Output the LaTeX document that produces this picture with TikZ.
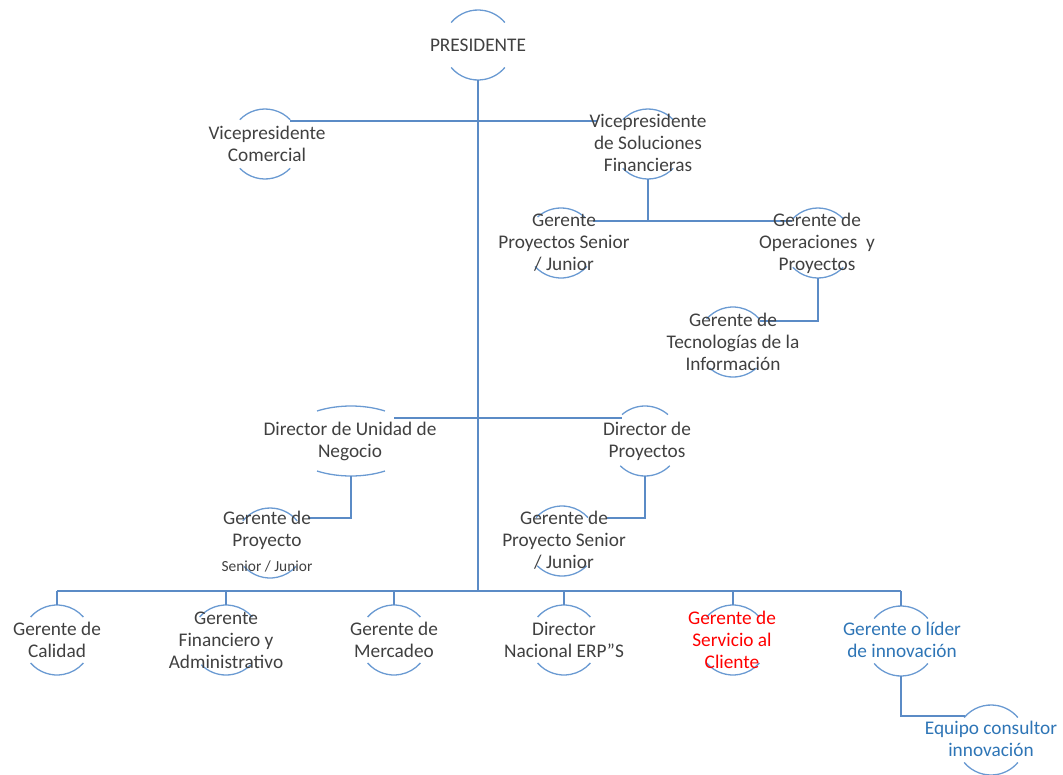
\documentclass[tikz,border=0pt]{standalone}
\usepackage{fontspec}
\setmainfont{Carlito}
\usetikzlibrary{calc}

\definecolor{linkblue}{HTML}{5B8BC6}
\definecolor{capblue}{HTML}{6A9AD2}
\definecolor{txtgray}{HTML}{404040}
\definecolor{txtred}{HTML}{FF0000}
\definecolor{txtblue}{HTML}{2E75B6}

% upper and lower caps of an org-chart bubble
% #1 centre, #2 x radius, #3 y radius, #4 upper half-angle, #5 lower half-angle
\newcommand\orgcaps[5]{%
  \draw[capline] (#1) ++({-#2*sin(#4)},{#3*cos(#4)})
    arc[start angle=90+#4, end angle=90-#4, x radius=#2, y radius=#3];
  \draw[capline] (#1) ++({-#2*sin(#5)},{-#3*cos(#5)})
    arc[start angle=270-#5, end angle=270+#5, x radius=#2, y radius=#3];
}

\tikzset{
  capline/.style={draw=capblue, line width=1.3pt},
  link/.style={draw=linkblue, line width=1.8pt},
  label/.style={text=txtgray, align=center, inner sep=0pt,
    font=\fontsize{19.3}{22}\selectfont},
}

\begin{document}
\begin{tikzpicture}[x=1pt,y=1pt]
\useasboundingbox (0,0) rectangle (1063,-774);

% bubble centres
\coordinate (cPres) at (478,-45);
\coordinate (cVpc)  at (265,-144);
\coordinate (cVpsf) at (648,-144);
\coordinate (cGps)  at (561,-243);
\coordinate (cGop)  at (818,-243);
\coordinate (cGti)  at (733,-342);
\coordinate (cDun)  at (351,-441);
\coordinate (cDpr)  at (645,-441);
\coordinate (cGpj)  at (270,-543);
\coordinate (cGpsj) at (562,-541);
\coordinate (cCal)  at (57,-640);
\coordinate (cFin)  at (226,-640);
\coordinate (cMer)  at (394,-640);
\coordinate (cErp)  at (564,-640);
\coordinate (cSer)  at (733,-640);
\coordinate (cInn)  at (901,-641);
\coordinate (cEqu)  at (991,-740);

% bubble outlines
\orgcaps{cPres}{35}{35}{50}{50}
\orgcaps{cVpc}{35}{35}{46}{46}
\orgcaps{cVpsf}{35}{35}{46}{46}
\orgcaps{cGps}{35}{35}{42}{48}
\orgcaps{cGop}{35}{35}{46}{46}
\orgcaps{cGti}{35}{35}{49}{42}
\orgcaps{cDun}{66}{35}{31}{31}
\orgcaps{cDpr}{35}{35}{41}{45}
\orgcaps{cGpj}{35}{35}{51}{48}
\orgcaps{cGpsj}{35}{35}{48}{45}
\orgcaps{cCal}{35}{35}{49}{49}
\orgcaps{cFin}{35}{35}{49}{45}
\orgcaps{cMer}{35}{35}{49}{49}
\orgcaps{cErp}{35}{35}{49}{49}
\orgcaps{cSer}{35}{35}{49}{49}
\orgcaps{cInn}{35}{35}{50}{50}
\orgcaps{cEqu}{35}{35}{50}{50}

% connector ports
\coordinate (presB) at (478,-80);
\coordinate (trunkE) at (478,-591);
\coordinate (vpcR)  at (290,-121);
\coordinate (vpsfL) at (597,-121);
\coordinate (vpsfB) at (648,-179);
\coordinate (split1) at (648,-221);
\coordinate (gpsR)  at (593,-221);
\coordinate (gopL)  at (792,-221);
\coordinate (gopB)  at (818,-278);
\coordinate (gtiR)  at (760,-321);
\coordinate (dunR)  at (394,-418);
\coordinate (dprL)  at (622,-418);
\coordinate (dunB)  at (351,-476);
\coordinate (gpjR)  at (308,-518);
\coordinate (dprB)  at (645,-476);
\coordinate (gpsjR) at (607,-518);
\coordinate (busL)  at (57,-591);
\coordinate (busR)  at (901,-591);
\coordinate (calT)  at (57,-605);
\coordinate (finT)  at (226,-605);
\coordinate (merT)  at (394,-605);
\coordinate (erpT)  at (564,-605);
\coordinate (serT)  at (733,-605);
\coordinate (innT)  at (901,-606);
\coordinate (innB)  at (901,-676);
\coordinate (equL)  at (965,-716);

% connectors
\draw[link] (presB) -- (trunkE);
\draw[link] (vpcR) -- (vpsfL);
\draw[link] (vpsfB) -- (split1);
\draw[link] (gpsR) -- (gopL);
\draw[link] (gopB) |- (gtiR);
\draw[link] (dunR) -- (dprL);
\draw[link] (dunB) |- (gpjR);
\draw[link] (dprB) |- (gpsjR);
\draw[link] (busL) -- (busR);
\foreach \p in {calT,finT,merT,erpT,serT,innT}
  \draw[link] (\p |- busL) -- (\p);
\draw[link] (innB) |- (equL);

% labels
\node[label] (pres) at (478,-45) {PRESIDENTE};
\node[label] (vpc)  at (267,-144) {Vicepresidente\\Comercial};
\node[label] (vpsf) at (648,-143) {Vicepresidente\\de Soluciones\\Financieras};
\node[label] (gps)  at (564,-243) {Gerente\\Proyectos Senior\\/ Junior};
\node[label] (gop)  at (817,-243) {Gerente de\\Operaciones~~y\\Proyectos};
\node[label] (gti)  at (733,-342) {Gerente de\\Tecnologías de la\\Información};
\node[label] (dun)  at (350,-441) {Director de Unidad de\\Negocio};
\node[label] (dpr)  at (647,-441) {Director de\\Proyectos};
\node[label] (gpj)  at (267,-542) {Gerente de\\Proyecto\\[3pt]{\fontsize{15.4}{18}\selectfont Senior / Junior}};
\node[label] (gpsj) at (564,-540) {Gerente de\\Proyecto Senior\\/ Junior};
\node[label] (cal)  at (57,-640)  {Gerente de\\Calidad};
\node[label] (fin)  at (226,-640) {Gerente\\Financiero y\\Administrativo};
\node[label] (mer)  at (394,-640) {Gerente de\\Mercadeo};
\node[label] (erp)  at (564,-640) {Director\\Nacional ERP”S};
\node[label, text=txtred] (ser) at (732,-640) {Gerente de\\Servicio al\\Cliente};
\node[label, text=txtblue] (inn) at (902,-640) {Gerente o líder\\de innovación};
\node[label, text=txtblue] (equ) at (991,-739) {Equipo consultor\\innovación};
\end{tikzpicture}
\end{document}
